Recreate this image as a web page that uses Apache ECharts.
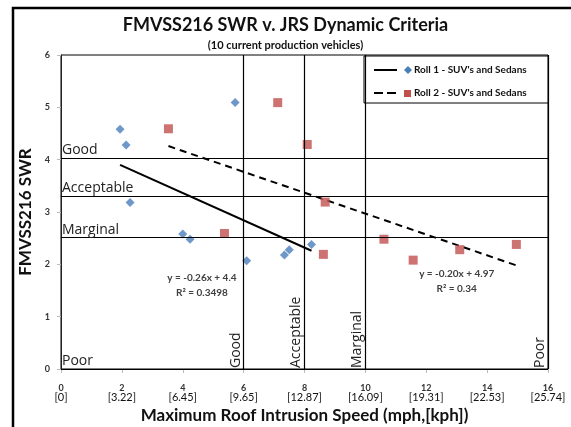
<!DOCTYPE html>
<html>
<head>
<meta charset="utf-8">
<script src="https://cdn.jsdelivr.net/npm/echarts@6/dist/echarts.min.js"></script>
<style>html,body{margin:0;padding:0;background:#fff;}#c{width:571px;height:427px;}</style>
</head>
<body>
<div id="c"></div>
<script>
// ---- data ----
const roll1 = [[1.94,4.58],[2.14,4.28],[2.27,3.18],[4.0,2.58],[4.24,2.48],[5.72,5.09],[6.1,2.07],[7.34,2.18],[7.5,2.28],[8.23,2.38]];
const roll2 = [[3.53,4.59],[5.37,2.59],[7.12,5.09],[8.09,4.29],[8.68,3.19],[8.62,2.19],[10.61,2.48],[11.57,2.08],[13.1,2.28],[14.96,2.38]];
const trend1 = [[1.94,3.90],[8.23,2.26]];
const trend2 = [[3.53,4.26],[14.96,1.98]];
const eq1Pos = [4.63,1.60];
const eq2Pos = [13.0,1.68];
const eq1Text = 'y = -0.26x + 4.4\nR\u00b2 = 0.3498';
const eq2Text = 'y = -0.20x + 4.97\nR\u00b2 = 0.34';
const criteriaLabels = ['Good','Acceptable','Marginal','Poor'];
const swrCriteria = [4.03, 3.31, 2.51, 0];
const speedCriteria = [6, 8, 10, 16];
const xTicks = [0,2,4,6,8,10,12,14,16];
const kphLabels = ['[0]','[3.22]','[6.45]','[9.65]','[12.87]','[16.09]','[19.31]','[22.53]','[25.74]'];
const seriesNames = ["Roll 1 - SUV's and Sedans","Roll 2 - SUV's and Sedans"];

const FONT = 'Lato, "Noto Sans", sans-serif';
const ZFONT = '"Open Sans", "DejaVu Sans", sans-serif';

const critLines = [];
swrCriteria.forEach((v,i)=>{
  critLines.push([{coord:[0,v], label:{formatter:criteriaLabels[i]}},{coord:[16,v]}]);
});
speedCriteria.forEach((v,i)=>{
  critLines.push([{coord:[v,0], label:{formatter:criteriaLabels[i]}},{coord:[v,6]}]);
});

const chart = echarts.init(document.getElementById('c'), null, {renderer:'canvas'});
chart.setOption({
  animation:false,
  backgroundColor:'#fff',
  title:{
    text:'FMVSS216 SWR v. JRS Dynamic Criteria',
    subtext:'(10 current production vehicles)',
    left:'center', top:11, itemGap:6,
    textStyle:{fontFamily:FONT, fontSize:18, fontWeight:'bold', color:'#111'},
    subtextStyle:{fontFamily:FONT, fontSize:11, fontWeight:'bold', color:'#111'}
  },
  grid:{left:61, top:55, right:23, bottom:58, show:true, borderColor:'#000', borderWidth:1,
    containLabel:false, outerBoundsMode:'none'},
  xAxis:{
    type:'value', min:0, max:16, interval:2,
    name:'Maximum Roof Intrusion Speed (mph,[kph])',
    nameLocation:'middle', nameGap:38,
    nameTextStyle:{fontFamily:FONT, fontSize:17, fontWeight:'bold', color:'#111'},
    axisLine:{show:true, lineStyle:{color:'#222', width:1}},
    axisTick:{show:true, length:4, lineStyle:{color:'#bbb'}},
    splitLine:{show:false},
    axisLabel:{
      margin:17,
      formatter:(v)=>'{a|'+v+'}\n{b|'+kphLabels[xTicks.indexOf(v)]+'}',
      rich:{
        a:{fontFamily:FONT, fontSize:9, fontWeight:'bold', color:'#333', lineHeight:5},
        b:{fontFamily:FONT, fontSize:11, color:'#111', lineHeight:12}
      }
    }
  },
  yAxis:{
    type:'value', min:0, max:6, interval:1,
    name:'FMVSS216 SWR', nameLocation:'middle', nameGap:22,
    nameTextStyle:{fontFamily:FONT, fontSize:17, fontWeight:'bold', color:'#111'},
    axisLine:{show:true, lineStyle:{color:'#222', width:1}},
    axisTick:{show:true, length:4, lineStyle:{color:'#bbb'}},
    splitLine:{show:false},
    axisLabel:{margin:11, fontFamily:FONT, fontSize:9, fontWeight:'bold', color:'#333'}
  },
  series:[
    {
      name:'criteria', type:'line', data:[], silent:true,
      markLine:{
        silent:true, symbol:'none', animation:false,
        lineStyle:{color:'#000', width:1.2, type:'solid'},
        label:{show:true, position:'insideStartTop', distance:[1,1],
          fontFamily:ZFONT, fontSize:14, color:'#222'},
        data:critLines
      }
    },
    {
      name:seriesNames[0]+' trend', type:'line', data:trend1, symbol:'none', silent:true,
      lineStyle:{color:'#000', width:2}, z:3,
      markPoint:{symbolSize:0, silent:true,
        label:{show:true, position:'inside', fontFamily:FONT, fontSize:10, fontWeight:'bold', color:'#404040', lineHeight:15},
        data:[{coord:eq1Pos, value:0, label:{formatter:eq1Text}}]}
    },
    {
      name:seriesNames[1]+' trend', type:'line', data:trend2, symbol:'none', silent:true,
      lineStyle:{color:'#000', width:2, type:[7,5]}, z:3,
      markPoint:{symbolSize:0, silent:true,
        label:{show:true, position:'inside', fontFamily:FONT, fontSize:10, fontWeight:'bold', color:'#404040', lineHeight:15},
        data:[{coord:eq2Pos, value:0, label:{formatter:eq2Text}}]}
    },
    {
      name:seriesNames[0], type:'scatter', data:roll1, symbol:'diamond', symbolSize:9,
      itemStyle:{color:'#4a7ebb'}, z:4
    },
    {
      name:seriesNames[1], type:'scatter', data:roll2, symbol:'rect', symbolSize:9,
      itemStyle:{color:'#c0504d'}, z:4
    }
  ],
  graphic:[
    {type:'rect', z:0, shape:{x:13, y:8, width:620, height:520}, style:{fill:null, stroke:'#000', lineWidth:2.5}},
    {type:'group', z:100, children:[
      {type:'rect', shape:{x:364, y:56, width:184, height:47}, style:{fill:'#fff', stroke:'#000', lineWidth:1}},
      {type:'line', shape:{x1:374, y1:70, x2:397, y2:70}, style:{stroke:'#000', lineWidth:2}},
      {type:'polygon', shape:{points:[[408,66],[412,70],[408,74],[404,70]]}, style:{fill:'#4a7ebb'}},
      {type:'text', style:{x:414, y:70, text:seriesNames[0], fontFamily:FONT, fontSize:10, fontWeight:'bold', fill:'#111', verticalAlign:'middle'}},
      {type:'line', shape:{x1:374, y1:93, x2:397, y2:93}, style:{stroke:'#000', lineWidth:2, lineDash:[9,4]}},
      {type:'rect', shape:{x:404, y:90, width:7, height:7}, style:{fill:'#c0504d'}},
      {type:'text', style:{x:414, y:93, text:seriesNames[1], fontFamily:FONT, fontSize:10, fontWeight:'bold', fill:'#111', verticalAlign:'middle'}}
    ]}
  ]
});
</script>
</body>
</html>
